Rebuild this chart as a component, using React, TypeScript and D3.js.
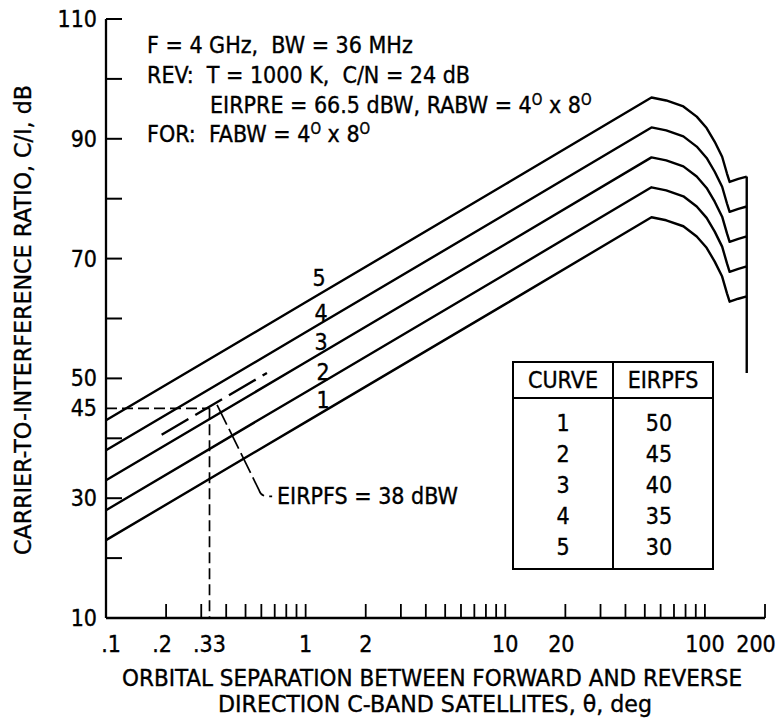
import React from "react";
import * as d3 from "d3";

// ---- data ----
const thetaPts = [0.1, 1, 10, 54, 64, 78, 91, 102, 112, 122, 129, 133, 147, 162];
const curve1 = [23, 42.7, 62.4, 76.9, 76.4, 75.4, 73.7, 71.8, 69.5, 67.0, 64.2, 62.8, 63.3, 63.7];
const curve2 = [28, 47.7, 67.4, 81.9, 81.4, 80.4, 78.7, 76.8, 74.5, 72.0, 69.2, 67.8, 68.3, 68.7];
const curve3 = [33, 52.7, 72.4, 86.9, 86.4, 85.4, 83.7, 81.8, 79.5, 77.0, 74.2, 72.8, 73.3, 73.7];
const curve4 = [38, 57.7, 77.4, 91.9, 91.4, 90.4, 88.7, 86.8, 84.5, 82.0, 79.2, 77.8, 78.3, 78.7];
const curve5 = [43, 62.7, 82.4, 96.9, 96.4, 95.4, 93.7, 91.8, 89.5, 87.0, 84.2, 82.8, 83.3, 83.7];
const curves = [curve1, curve2, curve3, curve4, curve5];
const curveNames = ["1", "2", "3", "4", "5"];
const curveLabelTheta = 1.18;
const curveLabelCI = [46.4, 51.1, 56.1, 60.9, 66.8];

const endTheta = 162;
const endTop = 83.7;
const endBottom = 50.9;

const dashedTheta = [0.19, 0.64];
const dashedCI = [40.6, 50.9];
const refTheta = 0.33;
const refCI = 45;

const tableCurves = ["1", "2", "3", "4", "5"];
const tableEirpfs = ["50", "45", "40", "35", "30"];

const yTickValues = [20, 30, 40, 50, 60, 70, 80, 90, 100, 110];
const yLabelValues = [10, 30, 45, 50, 70, 90, 110];
const xTickValues = [0.2, 0.3, 0.4, 0.5, 0.6, 0.7, 0.8, 0.9, 1, 2, 3, 4, 5, 6, 7, 8, 9, 10, 20, 30, 40, 50, 60, 70, 80, 90, 100, 200];
const xLabelValues = [0.1, 0.2, 0.33, 1, 2, 10, 20, 100, 200];
const xLabelText = [".1", ".2", ".33", "1", "2", "10", "20", "100", "200"];

const FONT = "'Liberation Sans Narrow', 'DejaVu Sans Condensed', 'Roboto Condensed', 'Liberation Sans', sans-serif";

export default function App() {
  const x = d3.scaleLog().domain([0.1, 200]).range([106, 765]);
  const y = d3.scaleLinear().domain([10, 110]).range([618, 19]);

  const line = d3
    .line<number>()
    .x((_, i) => x(thetaPts[i]))
    .y((d) => y(d));

  const fs = 23;
  const sup = (t: string) => (
    <tspan dy={-8} fontSize={15}>{t}</tspan>
  );

  // leader line from dashed curve to annotation text
  const lx0 = x(0.36), ly0 = y(45.6);
  const lx1 = x(0.585), ly1 = y(31.3);
  const leader = `M${lx0},${ly0} L${lx1},${ly1} Q${lx1 + 2},${ly1 + 6} ${lx1 + 9},${ly1 + 6} L${lx1 + 13},${ly1 + 6}`;

  const tX0 = 513, tX1 = 713, tDiv = 613, tTop = 362, tHead = 398, tBot = 569;
  const txt = { fontSize: fs, fill: "#000", stroke: "#000", strokeWidth: 0.35 } as const;
  const xLabelShift = (i: number) => (i === 0 ? 5 : i === 1 ? -4 : i === 6 ? -4 : i === 8 ? -9 : 0);

  return (
    <svg
      width={783}
      height={724}
      style={{ position: "absolute", left: 0, top: 0, background: "#fff" }}
      fontFamily={FONT}
    >
      <rect width={783} height={724} fill="#fff" />
      {/* axes */}
      <line x1={106} y1={y(110)} x2={106} y2={618} stroke="#000" strokeWidth={2.3} />
      <line x1={106} y1={618} x2={x(200)} y2={618} stroke="#000" strokeWidth={2.3} />
      {yTickValues.map((v) => (
        <line key={"yt" + v} x1={106} x2={122} y1={y(v)} y2={y(v)} stroke="#000" strokeWidth={2} />
      ))}
      {xTickValues.map((v) => (
        <line key={"xt" + v} x1={x(v)} x2={x(v)} y1={618} y2={604} stroke="#000" strokeWidth={1.8} />
      ))}
      {yLabelValues.map((v) => (
        <text key={"yl" + v} x={97} y={y(v)} textAnchor="end" dominantBaseline="central" {...txt}>
          {v}
        </text>
      ))}
      {xLabelValues.map((v, i) => (
        <text key={"xl" + v} x={x(v) + xLabelShift(i)} y={652} textAnchor="middle" {...txt}>
          {xLabelText[i]}
        </text>
      ))}
      {/* axis titles */}
      <text x={122} y={686} textLength={620} lengthAdjust="spacingAndGlyphs" {...txt}>
        ORBITAL SEPARATION BETWEEN FORWARD AND REVERSE
      </text>
      <text x={218} y={712} textLength={434} lengthAdjust="spacingAndGlyphs" {...txt}>
        DIRECTION C-BAND SATELLITES, θ, deg
      </text>
      <text transform="translate(31,320) rotate(-90)" textAnchor="middle" textLength={470} lengthAdjust="spacingAndGlyphs" {...txt}>
        CARRIER-TO-INTERFERENCE RATIO, C/I, dB
      </text>

      {/* curves */}
      {curves.map((c, i) => (
        <path key={"c" + i} d={line(c) || ""} fill="none" stroke="#000" strokeWidth={2.4} strokeLinejoin="round" />
      ))}
      <line x1={x(endTheta)} x2={x(endTheta)} y1={y(endTop)} y2={y(endBottom)} stroke="#000" strokeWidth={2.4} />
      {curveNames.map((n, i) => (
        <text key={"cl" + n} x={x(curveLabelTheta) + (i < 2 ? 3 : i === 4 ? -1 : 1)} y={y(curveLabelCI[i])} textAnchor="middle" dominantBaseline="central" {...txt}>
          {n}
        </text>
      ))}

      {/* EIRPFS = 38 dBW dashed curve & reference lines */}
      <line x1={x(dashedTheta[0])} y1={y(dashedCI[0])} x2={x(dashedTheta[1])} y2={y(dashedCI[1])} stroke="#000" strokeWidth={2.4} strokeDasharray="31,8" />
      <line x1={106} y1={y(refCI)} x2={x(refTheta)} y2={y(refCI)} stroke="#000" strokeWidth={1.7} strokeDasharray="11,5" />
      <line x1={x(refTheta)} y1={y(refCI)} x2={x(refTheta)} y2={618} stroke="#000" strokeWidth={1.7} strokeDasharray="11,5" />
      <path d={leader} fill="none" stroke="#000" strokeWidth={1.7} strokeDasharray="22,5" />
      <text x={277} y={y(31.3) + 6} dominantBaseline="central" {...txt}>
        EIRPFS = 38 dBW
      </text>

      {/* parameter text */}
      <text x={147} y={53} {...txt} style={{ whiteSpace: "pre" }}>F = 4 GHz,  BW = 36 MHz</text>
      <text x={147} y={83} {...txt} style={{ whiteSpace: "pre" }}>REV:  T = 1000 K,  C/N = 24 dB</text>
      <text x={210} y={113} {...txt}>
        EIRPRE = 66.5 dBW, RABW = 4{sup("O")}
        <tspan dy={8}> x 8</tspan>
        {sup("O")}
      </text>
      <text x={147} y={142} {...txt} style={{ whiteSpace: "pre" }}>
        FOR:  FABW = 4{sup("O")}
        <tspan dy={8}> x 8</tspan>
        {sup("O")}
      </text>

      {/* table */}
      <rect x={tX0} y={tTop} width={tX1 - tX0} height={tBot - tTop} fill="#fff" stroke="#000" strokeWidth={2} />
      <line x1={tX0} x2={tX1} y1={tHead} y2={tHead} stroke="#000" strokeWidth={2} />
      <line x1={tDiv} x2={tDiv} y1={tTop} y2={tBot} stroke="#000" strokeWidth={2} />
      <text x={(tX0 + tDiv) / 2} y={(tTop + tHead) / 2} textAnchor="middle" dominantBaseline="central" {...txt}>CURVE</text>
      <text x={(tDiv + tX1) / 2} y={(tTop + tHead) / 2} textAnchor="middle" dominantBaseline="central" {...txt}>EIRPFS</text>
      {tableCurves.map((c, i) => (
        <g key={"tr" + i}>
          <text x={563} y={423 + i * 31} textAnchor="middle" dominantBaseline="central" {...txt}>{c}</text>
          <text x={659} y={423 + i * 31} textAnchor="middle" dominantBaseline="central" {...txt}>{tableEirpfs[i]}</text>
        </g>
      ))}
    </svg>
  );
}
